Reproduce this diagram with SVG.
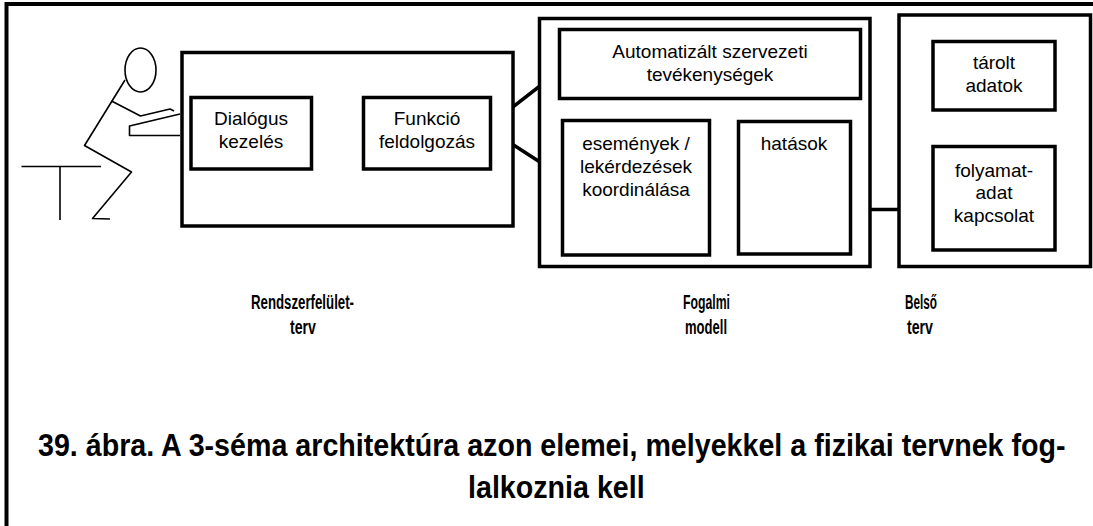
<svg xmlns="http://www.w3.org/2000/svg" width="1093" height="526" viewBox="0 0 1093 526">
  <style>
    .box { fill: #ffffff; stroke: #000000; stroke-width: 3.5; }
    .frame { fill: none; stroke: #000000; stroke-width: 4; }
    .link { fill: none; stroke: #000000; stroke-width: 3.5; }
    .figure { fill: none; stroke: #000000; stroke-width: 1.6; stroke-linejoin: round; }
    .t { font-family: "Liberation Sans", Arial, sans-serif; font-size: 19px; fill: #000000; text-anchor: middle; }
    .lbl { font-family: "Liberation Sans", Arial, sans-serif; font-size: 20px; font-weight: bold; fill: #000000; }
    .cap { font-family: "Liberation Sans", Arial, sans-serif; font-size: 32px; font-weight: bold; fill: #000000; }
  </style>

  <rect x="0" y="0" width="1093" height="526" fill="#ffffff"/>

  <!-- page frame: only top and left edges are visible -->
  <polyline class="frame" points="6.5,526 6.5,4 1093,4"/>

  <!-- seated user at the keyboard -->
  <g id="user">
    <ellipse class="figure" cx="140.5" cy="70" rx="15.5" ry="22"/>
    <polyline class="figure" points="125,80 84.5,145.5 131.5,172 92.5,218.5 110,219"/>
    <polyline class="figure" points="111.5,101 140.5,116 170,109 174,111"/>
    <polyline class="figure" points="180,114 129.5,126 129.5,135.5 180,135.5"/>
    <line class="figure" x1="21.5" y1="166.5" x2="101" y2="166.5"/>
    <line class="figure" x1="60" y1="166.5" x2="60" y2="220"/>
  </g>

  <!-- connectors -->
  <g id="connectors">
    <line class="link" x1="311.5" y1="132.5" x2="363.5" y2="132.5"/>
    <polyline class="link" points="565,66.5 486.5,127.5 561.5,176"/>
    <line class="link" x1="633.5" y1="98.5" x2="633.5" y2="120.5"/>
    <line class="link" x1="709.5" y1="181.5" x2="738.5" y2="181.5"/>
    <line class="link" x1="846.5" y1="209.5" x2="933" y2="209.5"/>
    <line class="link" x1="994" y1="110" x2="994" y2="146.5"/>
  </g>

  <!-- system interface design -->
  <g id="rendszerfelulet">
    <rect class="box" x="182" y="52.5" width="331" height="173.5"/>
    <text class="lbl" x="251" y="309" textLength="103" lengthAdjust="spacingAndGlyphs">Rendszerfelület-</text>
    <text class="lbl" x="290" y="334" textLength="26" lengthAdjust="spacingAndGlyphs">terv</text>
  </g>
  <g id="dialogus">
    <rect class="box" x="191" y="97.5" width="120.5" height="71.5"/>
    <text class="t" x="251" y="125">Dialógus</text>
    <text class="t" x="251" y="148">kezelés</text>
  </g>
  <g id="funkcio">
    <rect class="box" x="363.5" y="97.5" width="127" height="71.5"/>
    <text class="t" x="427" y="125">Funkció</text>
    <text class="t" x="427" y="148">feldolgozás</text>
  </g>

  <!-- conceptual model -->
  <g id="fogalmi">
    <rect class="box" x="539.5" y="18.5" width="330.5" height="248"/>
    <text class="lbl" x="683" y="309" textLength="47" lengthAdjust="spacingAndGlyphs">Fogalmi</text>
    <text class="lbl" x="685" y="334" textLength="42" lengthAdjust="spacingAndGlyphs">modell</text>
  </g>
  <g id="automatizalt">
    <rect class="box" x="559.5" y="29.5" width="301" height="69"/>
    <text class="t" x="710" y="58">Automatizált szervezeti</text>
    <text class="t" x="710" y="80.5">tevékenységek</text>
  </g>
  <g id="esemenyek">
    <rect class="box" x="562.5" y="120.5" width="147" height="134.5"/>
    <text class="t" x="636" y="149.5">események /</text>
    <text class="t" x="636" y="172.5">lekérdezések</text>
    <text class="t" x="636" y="195.5">koordinálása</text>
  </g>
  <g id="hatasok">
    <rect class="box" x="738.5" y="121.5" width="112" height="132.5"/>
    <text class="t" x="794" y="149.5">hatások</text>
  </g>

  <!-- internal design -->
  <g id="belso">
    <rect class="box" x="899" y="15" width="191.5" height="251.5"/>
    <text class="lbl" x="905" y="309" textLength="32" lengthAdjust="spacingAndGlyphs">Belső</text>
    <text class="lbl" x="907" y="334" textLength="26" lengthAdjust="spacingAndGlyphs">terv</text>
  </g>
  <g id="tarolt">
    <rect class="box" x="933" y="41.5" width="122" height="68.5"/>
    <text class="t" x="994" y="68.5">tárolt</text>
    <text class="t" x="994" y="91.5">adatok</text>
  </g>
  <g id="folyamat">
    <rect class="box" x="933" y="146.5" width="122" height="103.5"/>
    <text class="t" x="994" y="176.5">folyamat-</text>
    <text class="t" x="994" y="198.5">adat</text>
    <text class="t" x="994" y="221.5">kapcsolat</text>
  </g>

  <!-- figure caption, set in a horizontally condensed bold face -->
  <g id="caption">
    <text class="cap" transform="translate(38,456) scale(0.895,1)">39. ábra. A 3-séma architektúra azon elemei, melyekkel a fizikai tervnek fog-</text>
    <text class="cap" transform="translate(468,498) scale(0.895,1)">lalkoznia kell</text>
  </g>
</svg>
